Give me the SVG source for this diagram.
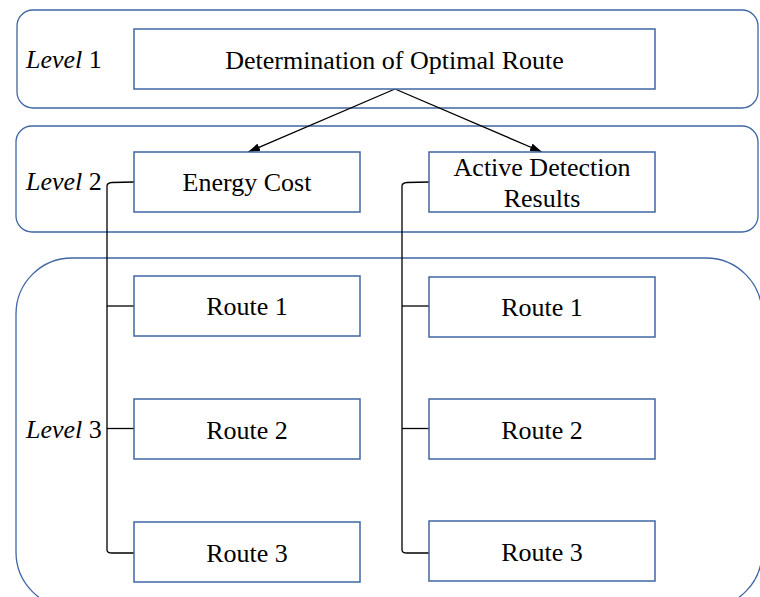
<svg xmlns="http://www.w3.org/2000/svg" width="760" height="597" viewBox="0 0 760 597">
  <defs>
    <style>
      .band { fill: none; stroke: #3f66a3; stroke-width: 1.3; }
      .box { fill: #ffffff; stroke: #3f66a3; stroke-width: 1.5; }
      .lbl { font-family: "Liberation Serif", "Times New Roman", serif; font-size: 26px; fill: #000; }
      .mid { text-anchor: middle; }
      .wire { fill: none; stroke: #000; stroke-width: 1.3; }
    </style>
    <marker id="arrow" viewBox="0 0 12 8" refX="12" refY="4" markerWidth="12" markerHeight="8" markerUnits="userSpaceOnUse" orient="auto">
      <path d="M0,0 L12,4 L0,8 Z" fill="#000"/>
    </marker>
  </defs>

  <!-- level bands -->
  <g id="bands">
    <rect class="band" x="17" y="10" width="741" height="98" rx="16"/>
    <rect class="band" x="16" y="126" width="742" height="106" rx="16"/>
    <rect class="band" x="16" y="258" width="746" height="350" rx="56"/>
  </g>

  <!-- level labels -->
  <g id="levels" class="lbl">
    <text x="26" y="68"><tspan font-style="italic">Level</tspan> 1</text>
    <text x="26" y="190"><tspan font-style="italic">Level</tspan> 2</text>
    <text x="26" y="438"><tspan font-style="italic">Level</tspan> 3</text>
  </g>

  <!-- connectors -->
  <g id="connectors">
    <line class="wire" x1="395" y1="89" x2="248" y2="152" marker-end="url(#arrow)"/>
    <line class="wire" x1="395" y1="89" x2="542" y2="152" marker-end="url(#arrow)"/>
    <!-- left bracket -->
    <path class="wire" d="M134,182 L112,182.5 Q107,183 107,186 L107,550 Q107,553 112,553 L134,553"/>
    <line class="wire" x1="107" y1="306" x2="134" y2="306"/>
    <line class="wire" x1="107" y1="428.5" x2="134" y2="428.5"/>
    <!-- right bracket -->
    <path class="wire" d="M429,182 L407,182.5 Q402,183 402,186 L402,550 Q402,553 407,553 L429,553"/>
    <line class="wire" x1="402" y1="306" x2="429" y2="306"/>
    <line class="wire" x1="402" y1="428.5" x2="429" y2="428.5"/>
  </g>

  <g id="optimal-route">
    <rect class="box" x="134" y="29" width="521" height="60"/>
    <text class="lbl mid" x="394.5" y="69">Determination of Optimal Route</text>
  </g>

  <g id="energy-cost">
    <rect class="box" x="134" y="152" width="226" height="60"/>
    <text class="lbl mid" x="247" y="191">Energy Cost</text>
  </g>

  <g id="active-detection">
    <rect class="box" x="429" y="152" width="226" height="60"/>
    <text class="lbl mid" x="542" y="176">Active Detection</text>
    <text class="lbl mid" x="542" y="207">Results</text>
  </g>

  <g id="ec-route-1">
    <rect class="box" x="134" y="276" width="226" height="60"/>
    <text class="lbl mid" x="247" y="315">Route 1</text>
  </g>
  <g id="ec-route-2">
    <rect class="box" x="134" y="399" width="226" height="60"/>
    <text class="lbl mid" x="247" y="439">Route 2</text>
  </g>
  <g id="ec-route-3">
    <rect class="box" x="134" y="522" width="226" height="60"/>
    <text class="lbl mid" x="247" y="562">Route 3</text>
  </g>

  <g id="ad-route-1">
    <rect class="box" x="429" y="277" width="226" height="60"/>
    <text class="lbl mid" x="542" y="316">Route 1</text>
  </g>
  <g id="ad-route-2">
    <rect class="box" x="429" y="399" width="226" height="60"/>
    <text class="lbl mid" x="542" y="439">Route 2</text>
  </g>
  <g id="ad-route-3">
    <rect class="box" x="429" y="521" width="226" height="60"/>
    <text class="lbl mid" x="542" y="561">Route 3</text>
  </g>
</svg>
